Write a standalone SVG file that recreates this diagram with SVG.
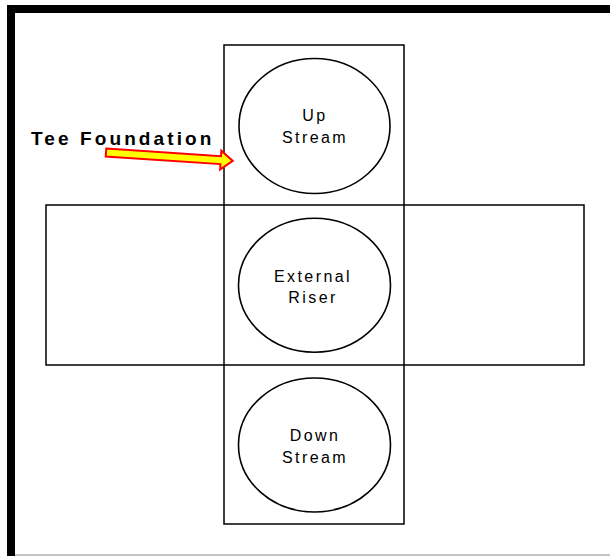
<svg xmlns="http://www.w3.org/2000/svg" width="610" height="556" viewBox="0 0 610 556">
<style>
.box{fill:none;stroke:#000;stroke-width:1.5}
.c{fill:none;stroke:#000;stroke-width:1.6}
.t{font-family:"Liberation Sans",Arial,sans-serif;font-size:16px;letter-spacing:2.4px;fill:#000;text-anchor:middle}
.lbl{font-family:"Liberation Sans",Arial,sans-serif;font-size:19px;font-weight:bold;letter-spacing:3.1px;fill:#000}
</style>
<rect width="610" height="556" fill="#fff"/>
<g id="frame">
<rect x="7" y="5" width="603" height="8" fill="#000"/>
<rect x="7" y="5" width="8" height="551" fill="#000"/>
<line x1="15" y1="555" x2="610" y2="555" stroke="#888" stroke-width="1"/>
</g>
<g id="foundation">
<rect class="box" x="224" y="45" width="180" height="479"/>
<rect class="box" x="46" y="205" width="538" height="160"/>
</g>
<g id="upstream">
<ellipse class="c" cx="314.5" cy="126" rx="75.5" ry="67.5"/>
<text class="t" x="315" y="121">Up</text>
<text class="t" x="315" y="143">Stream</text>
</g>
<g id="riser">
<ellipse class="c" cx="314.5" cy="285.3" rx="76" ry="67"/>
<text class="t" x="313" y="282">External</text>
<text class="t" x="313" y="303">Riser</text>
</g>
<g id="downstream">
<ellipse class="c" cx="314.5" cy="445" rx="76" ry="67"/>
<text class="t" x="315" y="441">Down</text>
<text class="t" x="315" y="463">Stream</text>
</g>
<g id="label">
<text class="lbl" x="31" y="145">Tee Foundation</text>
<polygon transform="translate(106,152.5) rotate(3.8)" points="0,-4 115,-4 115,-9.5 127,0 115,9.5 115,4 0,4" fill="#ffff00" stroke="#ff0000" stroke-width="2" stroke-linejoin="miter"/>
</g>
</svg>
